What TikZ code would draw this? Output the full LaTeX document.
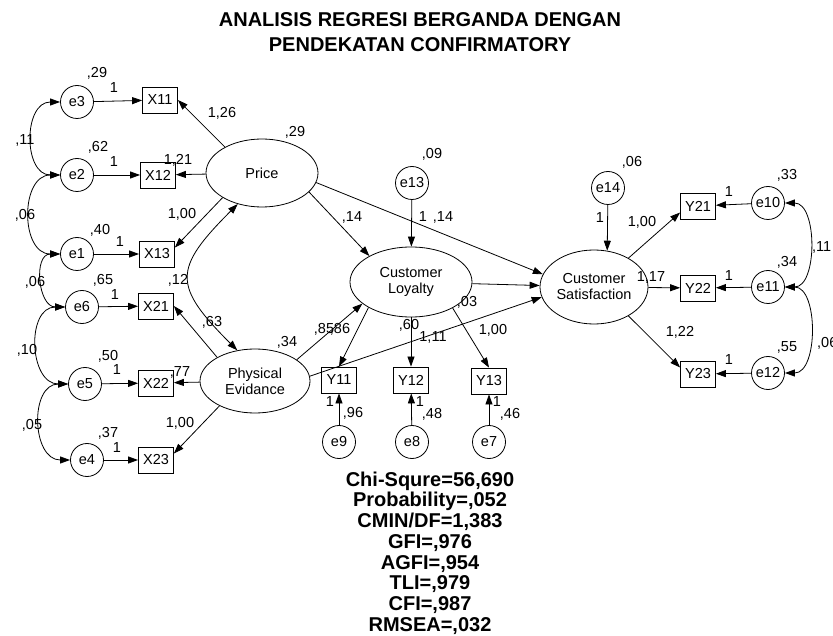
\documentclass[tikz,border=0pt]{standalone}
\usepackage{fontspec}
\setmainfont{Liberation Sans}
\usetikzlibrary{arrows.meta, positioning, shapes.geometric}

\tikzset{
  >={Triangle[length=10pt,width=7pt]},
  font=\fontsize{14.5}{16}\selectfont,
  lat/.style={ellipse, draw, line width=0.8pt, align=center, inner sep=0pt},
  obs/.style={rectangle, draw, line width=0.8pt, minimum width=35pt, minimum height=26pt, inner sep=0pt},
  err/.style={circle, draw, line width=0.8pt, minimum size=33pt, inner sep=0pt},
  est/.style={inner sep=0pt},
  reg/.style={->, line width=0.8pt},
  cov/.style={<->, line width=0.8pt}
}

\begin{document}
\begin{tikzpicture}[x=1pt,y=1pt]
  \useasboundingbox (0,0) rectangle (833,-636);
  \clip (0,0) rectangle (833,-636);

  \node[font=\bfseries\fontsize{20}{25}\selectfont, align=center] (title) at (420,-32)
    {ANALISIS REGRESI BERGANDA DENGAN\\PENDEKATAN CONFIRMATORY};

  % exogenous indicators
  \node[err] (e3) at (77,-102) {e3};
  \node[err] (e2) at (77,-175) {e2};
  \node[err] (e1) at (77,-254) {e1};
  \node[err] (e6) at (82,-307) {e6};
  \node[err] (e5) at (85,-384) {e5};
  \node[err] (e4) at (87,-460) {e4};
  \node[obs] (x11) at (160,-100) {X11};
  \node[obs] (x12) at (158,-175) {X12};
  \node[obs] (x13) at (157,-254) {X13};
  \node[obs] (x21) at (156,-306) {X21};
  \node[obs] (x22) at (156,-383) {X22};
  \node[obs] (x23) at (156,-460) {X23};

  % latent variables
  \node[lat, minimum width=112pt, minimum height=68pt] (price) at (262,-173) {Price};
  \node[lat, minimum width=110pt, minimum height=64pt] (pe) at (255,-381) {Physical\\Evidance};
  \node[lat, minimum width=122pt, minimum height=70pt] (cl) at (411,-282) {Customer\\Loyalty};
  \node[lat, minimum width=108pt, minimum height=74pt] (cs) at (594,-287) {Customer\\Satisfaction};
  \node[err] (e13) at (412,-183) {e13};
  \node[err] (e14) at (608,-188) {e14};

  % endogenous indicators
  \node[obs] (y11) at (339,-380) {Y11};
  \node[obs] (y12) at (411,-380) {Y12};
  \node[obs] (y13) at (489,-381) {Y13};
  \node[err] (e9) at (339,-442) {e9};
  \node[err] (e8) at (412,-442) {e8};
  \node[err] (e7) at (489,-442) {e7};
  \node[obs] (y21) at (698,-206) {Y21};
  \node[obs] (y22) at (698,-288) {Y22};
  \node[obs] (y23) at (698,-374) {Y23};
  \node[err] (e10) at (768,-203) {e10};
  \node[err] (e11) at (768,-287) {e11};
  \node[err] (e12) at (768,-373) {e12};

  % paths
  \draw[reg] (e3) -- (x11);
  \draw[reg] (e2) -- (x12);
  \draw[reg] (e1) -- (x13);
  \draw[reg] (e6) -- (x21);
  \draw[reg] (e5) -- (x22);
  \draw[reg] (e4) -- (x23);
  \draw[reg] (price.145) -- (x11.east);
  \draw[reg] (price) -- (x12);
  \draw[reg] (price.212) -- (x13.20);
  \draw[reg] (pe.148) -- (x21.east);
  \draw[reg] (pe) -- (x22);
  \draw[reg] (pe.215) -- (x23.20);
  \draw[reg] (price.-22) -- (cl.148);
  \draw[reg] (price.-10) -- (cs.166);
  \draw[reg] (pe.27) -- (cl.204);
  \draw[reg] (pe.5) -- (cs.191);
  \draw[reg] (cl) -- (cs);
  \draw[reg] (e13) -- (cl);
  \draw[reg] (e14) -- (cs.70);
  \draw[reg] (cl.211) -- (y11.north);
  \draw[reg] (cl) -- (y12);
  \draw[reg] (cl.-32) -- (y13.north);
  \draw[reg] (e9) -- (y11);
  \draw[reg] (e8) -- (y12);
  \draw[reg] (e7) -- (y13);
  \draw[reg] (cs.40) -- (y21.200);
  \draw[reg] (cs) -- (y22);
  \draw[reg] (cs.-40) -- (y23.160);
  \draw[reg] (e10) -- (y21);
  \draw[reg] (e11) -- (y22);
  \draw[reg] (e12) -- (y23);

  % covariances
  \draw[cov] (price.232) to[out=225,in=135,looseness=1.6] (pe.120);
  \draw[cov] (e3.west) to[out=180,in=180,looseness=1.3] (e2.west);
  \draw[cov] (e2.west) to[out=180,in=180,looseness=1.3] (e1.west);
  \draw[cov] (e1.west) to[out=180,in=180,looseness=1.3] (e6.west);
  \draw[cov] (e6.west) to[out=180,in=180,looseness=1.3] (e5.west);
  \draw[cov] (e5.west) to[out=180,in=180,looseness=1.3] (e4.west);
  \draw[cov] (e10.east) to[out=0,in=0] (e11.east);
  \draw[cov] (e11.east) to[out=0,in=0] (e12.east);

  % estimates, left
  \node[est] (ve3) at (97,-73) {,29};
  \node[est] (we3) at (114,-88) {1};
  \node[est] (w11) at (222,-113) {1,26};
  \node[est] (vprice) at (295,-132) {,29};
  \node[est] (c32) at (25,-140) {,11};
  \node[est] (ve2) at (98,-147) {,62};
  \node[est] (we2) at (114,-162) {1};
  \node[est] (w12) at (178,-160) {1,21};
  \node[est] (c21) at (25,-215) {,06};
  \node[est] (w13) at (182,-214) {1,00};
  \node[est] (ve1) at (100,-230) {,40};
  \node[est] (we1) at (120,-242) {1};
  \node[est] (c16) at (35,-282) {,06};
  \node[est] (ve6) at (103,-280) {,65};
  \node[est] (cpe) at (178,-280) {,12};
  \node[est] (we6) at (115,-295) {1};
  \node[est] (w21) at (212,-322) {,63};
  \node[est] (c65) at (27,-350) {,10};
  \node[est] (ve5) at (108,-356) {,50};
  \node[est] (we5) at (117,-370) {1};
  \node[est] (w22) at (180,-372) {,77};
  \node[est] (vpe) at (287,-342) {,34};
  \node[est] (c54) at (32,-425) {,05};
  \node[est] (w23) at (180,-423) {1,00};
  \node[est] (ve4) at (108,-433) {,37};
  \node[est] (we4) at (117,-448) {1};

  % estimates, middle
  \node[est] (ve13) at (432,-154) {,09};
  \node[est] (bpl) at (352,-217) {,14};
  \node[est] (we13) at (423,-217) {1};
  \node[est] (bps) at (443,-217) {,14};
  \node[est] (bel) at (324,-329) {,85};
  \node[est] (w31) at (340,-329) {,86};
  \node[est] (bls) at (467,-302) {,03};
  \node[est] (w32) at (409,-325) {,60};
  \node[est] (bes) at (433,-337) {1,11};
  \node[est] (w33) at (493,-330) {1,00};
  \node[est] (we9) at (330,-402) {1};
  \node[est] (ve9) at (353,-413) {,96};
  \node[est] (we8) at (420,-402) {1};
  \node[est] (ve8) at (432,-414) {,48};
  \node[est] (we7) at (497,-402) {1};
  \node[est] (ve7) at (510,-414) {,46};

  % estimates, right
  \node[est] (ve14) at (632,-162) {,06};
  \node[est] (we14) at (600,-218) {1};
  \node[est] (w41) at (642,-222) {1,00};
  \node[est] (w42) at (651,-277) {1,17};
  \node[est] (w43) at (680,-332) {1,22};
  \node[est] (ve10) at (787,-175) {,33};
  \node[est] (we10) at (729,-192) {1};
  \node[est, anchor=west] (c1011) at (812,-247) {,11};
  \node[est] (ve11) at (787,-262) {,34};
  \node[est] (we11) at (729,-276) {1};
  \node[est, anchor=west] (c1112) at (817,-343) {,06};
  \node[est] (ve12) at (787,-347) {,55};
  \node[est] (we12) at (729,-360) {1};

  % fit indices
  \node[font=\bfseries\fontsize{20}{20.7}\selectfont, align=center] (fit) at (430,-553)
    {Chi-Squre=56,690\\Probability=,052\\CMIN/DF=1,383\\GFI=,976\\AGFI=,954\\TLI=,979\\CFI=,987\\RMSEA=,032};
\end{tikzpicture}
\end{document}
